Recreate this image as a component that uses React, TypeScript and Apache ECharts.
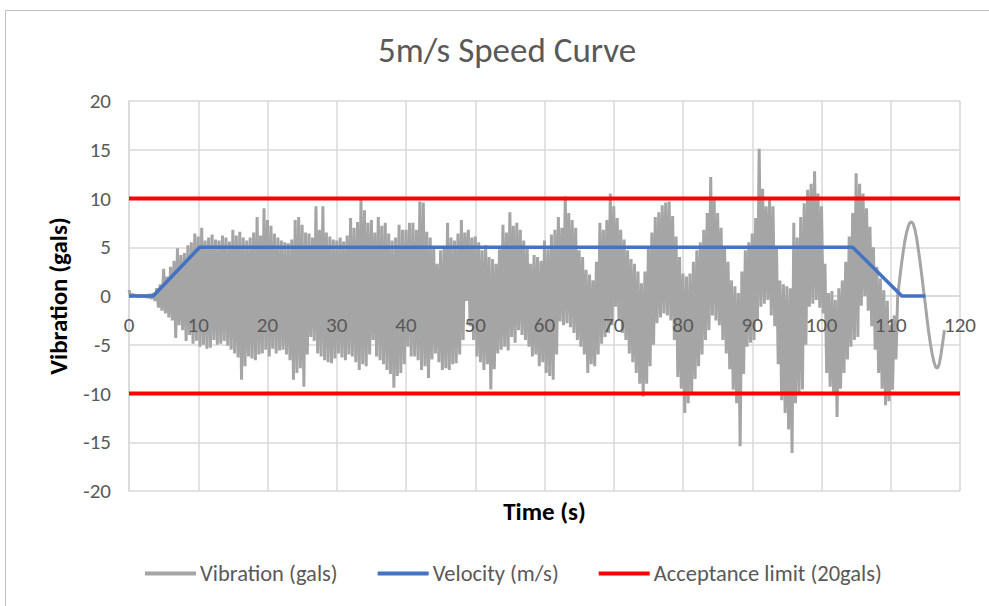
import React, { useEffect, useRef } from "react";
import * as echarts from "echarts";

const TITLE = "5m/s Speed Curve";
const X_NAME = "Time (s)";
const Y_NAME = "Vibration (gals)";
const VIB_NAME = "Vibration (gals)";
const VEL_NAME = "Velocity (m/s)";
const LIM_NAME = "Acceptance limit (20gals)";

// vibration sampled every 0.25 s, one row per second
const VIB_STEP = 0.25;
const VIBRATION = [
  0.6, -0.1, 0.2, 0, // 0
  0.1, -0.1, 0.1, -0.1,
  0.1, -0.1, 0.1, -0.2,
  0.2, -0.3, 0.3, -0.5,
  0.8, -1.2, 1.2, -1.5,
  2.8, -1.8, 2.0, -2.2, // 5
  3.0, -2.5, 3.6, -4.3,
  4.9, -3.0, 4.2, -3.5,
  4.4, -4.6, 5.2, -4.0,
  5.5, -4.9, 6.4, -4.6,
  6.1, -5.2, 7.0, -5.0, // 10
  5.7, -5.4, 6.0, -5.3,
  6.3, -4.5, 5.8, -5.0,
  5.7, -4.9, 6.2, -4.6,
  6.0, -5.1, 5.6, -5.5,
  6.8, -5.9, 6.2, -6.3, // 15
  6.6, -8.6, 6.0, -7.2,
  5.7, -6.2, 6.0, -6.4,
  6.5, -6.6, 8.1, -6.0,
  6.2, -5.9, 9.0, -5.5,
  7.8, -6.2, 7.2, -5.4, // 20
  6.4, -5.9, 6.0, -5.6,
  5.7, -5.5, 5.5, -6.0,
  5.4, -6.6, 5.8, -8.6,
  7.8, -7.9, 8.1, -7.4,
  7.3, -9.3, 6.5, -6.0, // 25
  6.4, -4.2, 6.0, -4.6,
  9.2, -5.9, 6.8, -6.2,
  9.2, -6.6, 6.5, -6.8,
  6.1, -6.9, 5.8, -6.4,
  5.7, -5.9, 6.0, -6.3, // 30
  5.6, -6.6, 6.2, -6.0,
  8.0, -6.2, 7.0, -6.8,
  7.6, -7.6, 9.9, -7.0,
  8.8, -7.2, 7.5, -6.0,
  7.8, -4.5, 6.5, -6.2, // 35
  8.1, -6.6, 7.2, -7.0,
  7.5, -7.6, 6.4, -8.0,
  5.7, -9.4, 6.0, -8.2,
  7.3, -7.9, 6.8, -7.0,
  6.8, -5.2, 7.5, -6.2, // 40
  7.5, -6.2, 6.8, -6.6,
  9.7, -7.6, 9.6, -7.2,
  6.6, -8.4, 6.0, -6.5,
  5.1, -5.9, 3.3, -6.8,
  4.7, -7.6, 5.0, -7.4, // 45
  7.5, -7.6, 6.0, -7.0,
  5.7, -6.9, 6.4, -6.0,
  7.8, -4.5, 6.5, -0.5,
  6.8, -3.1, 6.0, -4.5,
  6.1, -6.2, 5.5, -6.8, // 50
  4.7, -7.6, 5.2, -7.0,
  4.0, -9.6, 3.8, -7.5,
  3.3, -5.9, 4.8, -5.5,
  7.3, -5.2, 6.5, -5.6,
  8.6, -4.2, 7.2, -4.8, // 55
  7.5, -3.5, 6.8, -4.0,
  5.7, -4.5, 5.0, -5.2,
  3.3, -6.2, 4.2, -6.0,
  4.0, -7.2, 3.6, -6.8,
  5.7, -7.9, 4.8, -8.2, // 60
  6.3, -8.6, 6.8, -6.0,
  8.1, -2.6, 7.0, -3.0,
  10.2, -2.8, 8.5, -3.2,
  7.8, -3.8, 7.0, -4.5,
  4.7, -5.2, 4.0, -6.0, // 65
  2.7, -7.9, 2.2, -7.0,
  1.6, -7.2, 3.5, -6.0,
  7.5, -4.9, 6.8, -4.2,
  7.8, -3.8, 10.5, -3.0,
  9.2, -1.1, 8.0, -2.5, // 70
  6.8, -3.8, 5.8, -4.5,
  4.7, -5.9, 3.8, -6.8,
  3.3, -7.9, 2.5, -9.0,
  1.3, -10.3, 2.5, -9.0,
  5.1, -7.2, 6.5, -5.0, // 75
  8.1, -2.8, 8.6, -2.2,
  9.3, -1.8, 9.6, -2.0,
  9.7, -2.5, 8.2, -4.5,
  6.1, -8.3, 4.0, -9.5,
  2.3, -12.0, 2.0, -11.0, // 80
  2.3, -10.0, 3.5, -8.5,
  4.7, -7.2, 5.5, -6.0,
  6.8, -4.5, 8.5, -3.5,
  12.2, -2.0, 10.0, -2.5,
  8.5, -3.0, 7.0, -4.5, // 85
  5.1, -5.9, 3.5, -7.5,
  1.6, -9.6, 1.0, -11.0,
  0.3, -15.4, 2.5, -8.0,
  4.7, -5.2, 5.5, -4.8,
  6.4, -4.5, 8.0, -2.5, // 90
  15.1, -1.1, 11.0, -0.8,
  9.2, -0.4, 10.0, -2.0,
  9.2, -3.1, 5.0, -7.0,
  1.6, -10.7, 1.2, -12.0,
  1.0, -13.7, 0.8, -16.1, // 95
  7.5, -11.0, 6.0, -10.0,
  8.1, -9.6, 9.5, -5.0,
  10.9, -1.1, 11.5, -0.8,
  12.8, -0.4, 10.5, -1.2,
  9.2, -1.8, 3.3, -7.9, // 100
  0.3, -9.3, 0.5, -10.0,
  -0.4, -12.4, 0.8, -9.5,
  1.6, -7.9, 3.5, -6.5,
  6.1, -5.2, 8.5, -4.5,
  12.6, -4.2, 11.5, -1.0, // 105
  10.5, 0, 9.0, -1.5,
  7.1, -3.1, 5.0, -5.5,
  3.0, -7.9, 1.8, -9.5,
  0.6, -11.2, -0.5, -10.8,
  -3.0, -9.6, -2.0, -6.5, // 110
  0.0, 1.5, 3.0, 4.3,
  5.5, 6.4, 7.1, 7.5,
  7.6, 7.4, 6.8, 5.9,
  4.7, 3.4, 2.0, 0.5,
  -0.9, -2.4, -3.8, -5.0, // 115
  -6.0, -6.8, -7.3, -7.4,
  -7.0, -6.0, -4.8, -3.5,
];

const VELOCITY_T = [0, 3.5, 10.2, 104.5, 111.6, 115];
const VELOCITY_V = [0, 0, 5, 5, 0, 0];

const LIMIT_T = [0, 120];
const LIMIT_UPPER = 10;
const LIMIT_LOWER = -10;

const X_MIN = 0, X_MAX = 120, X_INTERVAL = 10;
const Y_MIN = -20, Y_MAX = 20, Y_INTERVAL = 5;

const FONT = "Carlito, Lato, 'Noto Sans', sans-serif";

const GRID_TOP = 101;
const GRID_BOTTOM = 115;
const CHART_H = 606;

export default function App() {
  const ref = useRef<HTMLDivElement>(null);
  useEffect(() => {
    if (!ref.current) return;
    const chart = echarts.init(ref.current, null, { renderer: "svg" });
    const vib = VIBRATION.map((v, i) => [i * VIB_STEP, v]);
    const vel = VELOCITY_T.map((t, i) => [t, VELOCITY_V[i]]);
    const up = LIMIT_T.map((t) => [t, LIMIT_UPPER]);
    const lo = LIMIT_T.map((t) => [t, LIMIT_LOWER]);
    // move the x axis up to the zero line of the y axis
    const plotH = CHART_H - GRID_TOP - GRID_BOTTOM;
    const zeroOffset = -plotH * (0 - Y_MIN) / (Y_MAX - Y_MIN);
    const xBase = {
      type: "value",
      position: "bottom",
      offset: zeroOffset,
      min: X_MIN,
      max: X_MAX,
      interval: X_INTERVAL,
      axisTick: { show: false },
    };
    chart.setOption({
      animation: false,
      backgroundColor: "#ffffff",
      textStyle: { fontFamily: FONT },
      title: {
        text: TITLE,
        left: 378,
        top: 32,
        padding: 0,
        textStyle: { fontFamily: FONT, fontSize: 35, fontWeight: "normal", color: "#595959" },
      },
      graphic: [
        {
          type: "rect",
          shape: { x: 5.5, y: 10.5, width: 990, height: 600 },
          style: { fill: "none", stroke: "#BFBFBF", lineWidth: 1 },
          silent: true,
        },
      ],
      legend: {
        top: 562,
        left: 145,
        padding: 0,
        icon: "rect",
        itemWidth: 51,
        itemHeight: 4,
        itemGap: 40,
        textStyle: { fontFamily: FONT, fontSize: 22.5, color: "#595959", padding: [0, 0, 0, -1] },
        data: [VIB_NAME, VEL_NAME, LIM_NAME],
      },
      grid: {
        left: 129,
        right: 29,
        top: GRID_TOP,
        bottom: GRID_BOTTOM,
        containLabel: false,
        outerBoundsMode: "none",
      },
      xAxis: [
        {
          ...xBase,
          name: X_NAME,
          nameLocation: "middle",
          nameGap: 203,
          nameTextStyle: { fontFamily: FONT, fontSize: 25, fontWeight: "bold", color: "#000000" },
          axisLine: { show: true, onZero: false, lineStyle: { color: "#D9D9D9", width: 1.5 } },
          axisLabel: { show: false },
          splitLine: { show: true, lineStyle: { color: "#D9D9D9", width: 1.5 } },
          z: 0,
        },
        {
          ...xBase,
          axisLine: { show: false, onZero: false },
          axisLabel: { margin: 18, fontFamily: FONT, fontSize: 21, color: "#595959" },
          splitLine: { show: false },
          z: 10,
        },
      ],
      yAxis: {
        type: "value",
        min: Y_MIN,
        max: Y_MAX,
        interval: Y_INTERVAL,
        name: Y_NAME,
        nameLocation: "middle",
        nameGap: 58,
        nameRotate: 90,
        nameTextStyle: { fontFamily: FONT, fontSize: 25, fontWeight: "bold", color: "#000000" },
        axisLine: { show: true, onZero: false, lineStyle: { color: "#D9D9D9", width: 1.5 } },
        axisTick: { show: false },
        axisLabel: { margin: 18, fontFamily: FONT, fontSize: 21, color: "#595959" },
        splitLine: { show: true, lineStyle: { color: "#D9D9D9", width: 1.5 } },
      },
      series: [
        {
          name: VIB_NAME,
          type: "line",
          xAxisIndex: 0,
          data: vib,
          showSymbol: false,
          symbol: "none",
          color: "#A5A5A5",
          lineStyle: { color: "#A5A5A5", width: 3, join: "bevel" },
          z: 2,
        },
        {
          name: VEL_NAME,
          type: "line",
          xAxisIndex: 0,
          data: vel,
          showSymbol: false,
          symbol: "none",
          color: "#4472C4",
          lineStyle: { color: "#4472C4", width: 3.5 },
          z: 3,
        },
        {
          name: LIM_NAME,
          type: "line",
          xAxisIndex: 0,
          data: up,
          showSymbol: false,
          symbol: "none",
          color: "#FF0000",
          lineStyle: { color: "#FF0000", width: 4 },
          z: 4,
        },
        {
          name: LIM_NAME,
          type: "line",
          xAxisIndex: 0,
          data: lo,
          showSymbol: false,
          symbol: "none",
          color: "#FF0000",
          lineStyle: { color: "#FF0000", width: 4 },
          z: 4,
        },
      ],
    });
    return () => chart.dispose();
  }, []);
  return (
    <div
      ref={ref}
      style={{ position: "fixed", left: 0, top: 0, width: 989, height: 606, background: "#fff" }}
    />
  );
}
